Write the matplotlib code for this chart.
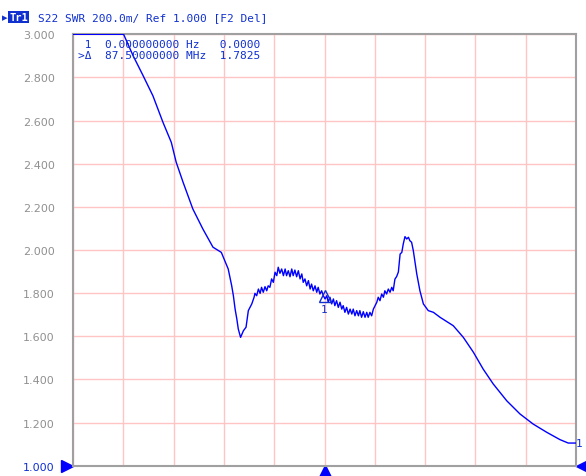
import matplotlib.pyplot as plt

# Trace S22 SWR (frequency in MHz relative to centre, span 175 MHz)
freq_mhz = [-87.5, -69.9, -66.6, -63.1, -59.7, -56.2, -53.3, -51.6, -49.2, -45.8,
            -42.3, -38.8, -35.9, -33.5, -32.3, -31.7, -31.1, -30.5, -30.0, -29.2,
            -28.2, -27.3, -26.5, -25.9, -25.3, -24.5, -24.2, -23.6, -23.0, -22.4,
            -21.9, -21.3, -20.7, -20.1, -19.6, -19.0, -18.4, -17.8, -17.2, -16.6,
            -16.1, -15.5, -14.9, -14.3, -13.7, -13.2, -12.6, -12.0, -11.4, -10.9,
            -10.3, -9.7, -9.1, -8.5, -7.9, -7.4, -6.8, -6.2, -5.6, -5.0,
            -4.5, -3.9, -3.3, -2.7, -2.2, -1.6, -1.0, -0.4, 0.2, 0.8,
            1.3, 1.9, 2.5, 3.1, 3.6, 4.2, 4.8, 5.4, 6.0, 6.5,
            7.1, 7.7, 8.3, 8.9, 9.5, 10.0, 10.6, 11.2, 11.8, 12.3,
            12.9, 13.5, 14.1, 14.7, 15.2, 15.8, 16.4, 17.0, 17.6, 18.2,
            18.7, 19.3, 19.9, 20.5, 21.0, 21.6, 22.2, 22.8, 23.4, 23.9,
            24.5, 25.1, 25.7, 26.3, 26.9, 27.4, 28.0, 28.6, 29.2, 29.7,
            30.3, 30.9, 32.1, 33.2, 34.4, 36.1, 37.9, 40.2, 44.8, 48.3,
            51.8, 55.2, 58.7, 63.4, 68.0, 72.6, 77.3, 81.9, 84.8, 87.5]
swr = [3.000, 3.000, 2.901, 2.808, 2.715, 2.592, 2.499, 2.407, 2.314, 2.190,
       2.097, 2.013, 1.989, 1.912, 1.835, 1.788, 1.726, 1.680, 1.634, 1.595,
       1.626, 1.642, 1.719, 1.734, 1.750, 1.781, 1.799, 1.788, 1.819, 1.799,
       1.827, 1.804, 1.830, 1.811, 1.834, 1.827, 1.866, 1.850, 1.897, 1.881,
       1.920, 1.892, 1.912, 1.881, 1.912, 1.881, 1.904, 1.876, 1.912, 1.881,
       1.907, 1.876, 1.904, 1.866, 1.889, 1.850, 1.866, 1.834, 1.858, 1.819,
       1.842, 1.811, 1.834, 1.804, 1.827, 1.796, 1.811, 1.788, 1.773, 1.788,
       1.758, 1.781, 1.750, 1.773, 1.742, 1.765, 1.734, 1.758, 1.726, 1.742,
       1.711, 1.734, 1.703, 1.726, 1.703, 1.726, 1.695, 1.719, 1.695, 1.719,
       1.688, 1.714, 1.688, 1.711, 1.688, 1.711, 1.695, 1.726, 1.742, 1.758,
       1.781, 1.765, 1.796, 1.781, 1.811, 1.796, 1.819, 1.804, 1.827, 1.811,
       1.865, 1.877, 1.898, 1.981, 1.989, 2.028, 2.062, 2.051, 2.059, 2.043,
       2.036, 1.997, 1.889, 1.811, 1.750, 1.719, 1.711, 1.688, 1.649, 1.595,
       1.526, 1.448, 1.379, 1.301, 1.240, 1.193, 1.155, 1.121, 1.105, 1.105]

marker1_freq = 0.0
marker1_swr = 1.785
yticks = [1.0, 1.2, 1.4, 1.6, 1.8, 2.0, 2.2, 2.4, 2.6, 2.8, 3.0]
xticks = [-87.5 + 17.5 * i for i in range(11)]

BLUE = '#0000ff'
TXT_BLUE = '#1030d0'
GRAY = '#909090'

fig = plt.figure(figsize=(5.86, 4.77), dpi=100)
fig.patch.set_facecolor('white')
ax = fig.add_axes([73 / 586, 10.3 / 477, 503 / 586, 431.4 / 477])

ax.plot(freq_mhz, swr, color=BLUE, linewidth=1.0, zorder=3)

ax.set_xlim(-87.5, 87.5)
ax.set_ylim(1.0, 3.0)
ax.set_xticks(xticks)
ax.set_yticks(yticks)
ax.set_xticklabels([])
ax.set_yticklabels(['%.3f' % v for v in yticks])
ax.tick_params(length=0, labelsize=8, labelcolor=GRAY, pad=13)
ax.get_yticklabels()[0].set_color(TXT_BLUE)
ax.grid(True, color='#ffc4c4', linewidth=1)
for s in ax.spines.values():
    s.set_color('#a0a0a0')
    s.set_linewidth(1.5)

# Marker 1 en el centro
ax.plot([marker1_freq], [marker1_swr], marker='^', markersize=8, markerfacecolor='none',
        markeredgecolor=TXT_BLUE, markeredgewidth=1, linestyle='none', zorder=4)
ax.text(marker1_freq, marker1_swr - 0.035, '1', color=TXT_BLUE, fontsize=8,
        ha='center', va='top', family='DejaVu Sans Mono')
ax.text(87.5, swr[-1], '1', color=TXT_BLUE, fontsize=8, ha='left', va='center',
        family='DejaVu Sans Mono', clip_on=False)

# Triangulos de referencia en los bordes
yt = ax.get_yaxis_transform()
xt = ax.get_xaxis_transform()
ax.plot([-0.012], [1.0], marker='>', markersize=9, color=BLUE, transform=yt, clip_on=False)
ax.plot([1.012], [1.0], marker='<', markersize=9, color=BLUE, transform=yt, clip_on=False)
ax.plot([0.0], [-0.012], marker='^', markersize=9, color=BLUE, transform=xt, clip_on=False)

# Lectura de marcadores
ax.text(0.009, 0.989, ' 1  0.000000000 Hz   0.0000\n>\u0394  87.50000000 MHz  1.7825',
        transform=ax.transAxes, color=TXT_BLUE, fontsize=8, family='DejaVu Sans Mono',
        va='top', ha='left', linespacing=1.15)

# Cabecera
fig.text(2 / 586, 1 - 18 / 477, '\u25b8', color=TXT_BLUE, fontsize=8, va='center', ha='left')
fig.text(9 / 586, 1 - 18 / 477, 'Tr1', color='white', fontsize=7.5, va='center', ha='left',
         family='DejaVu Sans Mono', fontweight='bold',
         bbox=dict(boxstyle='square,pad=0.1', facecolor=TXT_BLUE, edgecolor='none'))
fig.text(38 / 586, 1 - 18 / 477, 'S22 SWR 200.0m/ Ref 1.000 [F2 Del]', color=TXT_BLUE,
         fontsize=8, va='center', ha='left', family='DejaVu Sans Mono')

fig.savefig('out.png', dpi=100, facecolor='white')
